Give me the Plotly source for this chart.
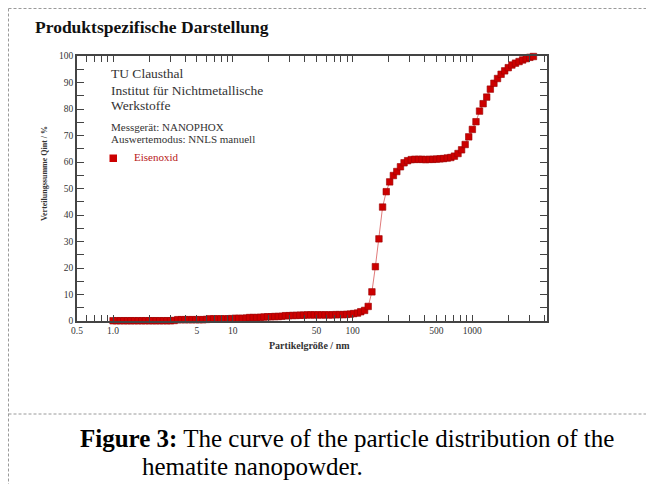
import plotly.graph_objects as go

# ---- data ----
size_nm = [1.00, 1.07, 1.15, 1.23, 1.32, 1.41, 1.51, 1.62, 1.74, 1.86,
           2.00, 2.14, 2.29, 2.45, 2.63, 2.82, 3.02, 3.24, 3.47, 3.72,
           3.98, 4.27, 4.57, 4.90, 5.25, 5.62, 6.03, 6.46, 6.92, 7.41,
           7.94, 8.51, 9.12, 9.77, 10.5, 11.2, 12.0, 12.9, 13.8, 14.8,
           15.8, 17.0, 18.2, 19.5, 20.9, 22.4, 24.0, 25.7, 27.5, 29.5,
           31.6, 33.9, 36.3, 38.9, 41.7, 44.7, 47.9, 51.3, 55.0, 58.9,
           63.1, 67.6, 72.4, 77.6, 83.2, 89.1, 95.5, 102, 110, 117,
           126, 135, 145, 155, 166, 178, 191, 204, 219, 234,
           251, 269, 288, 309, 331, 355, 380, 407, 437, 468,
           501, 537, 575, 617, 661, 708, 759, 813, 871, 933,
           1000, 1072, 1148, 1230, 1318, 1413, 1514, 1622, 1738, 1862,
           1995, 2138, 2291, 2455, 2630, 2818, 3020, 3236]

q_int = [0.1, 0.1, 0.1, 0.1, 0.1, 0.1, 0.1, 0.1, 0.1, 0.1,
         0.1, 0.1, 0.1, 0.1, 0.1, 0.1, 0.1, 0.2, 0.5, 0.5,
         0.5, 0.5, 0.5, 0.5, 0.5, 0.5, 0.6, 0.8, 0.8, 0.8,
         0.8, 0.8, 0.8, 0.9, 1.0, 1.0, 1.0, 1.1, 1.3, 1.3,
         1.3, 1.4, 1.5, 1.6, 1.6, 1.7, 1.7, 1.8, 2.0, 2.0,
         2.1, 2.1, 2.2, 2.2, 2.3, 2.3, 2.3, 2.3, 2.3, 2.3,
         2.3, 2.3, 2.4, 2.4, 2.4, 2.5, 2.6, 2.8, 3.0, 3.5,
         4.0, 5.5, 11.0, 20.5, 31.0, 43.0, 48.8, 52.5, 54.9, 56.4,
         58.2, 59.7, 60.5, 60.9, 61.0, 61.0, 61.0, 60.9, 61.0, 61.0,
         61.1, 61.2, 61.3, 61.5, 61.7, 62.2, 63.2, 64.6, 66.6, 69.5,
         72.3, 75.2, 79.2, 82.0, 84.5, 87.5, 89.7, 91.5, 93.1, 94.4,
         95.6, 96.6, 97.3, 97.9, 98.5, 99.0, 99.5, 99.8]

x_tickvals = [0.5, 0.6, 0.7, 0.8, 0.9, 1, 2, 3, 4, 5, 6, 7, 8, 9,
              10, 20, 30, 40, 50, 60, 70, 80, 90,
              100, 200, 300, 400, 500, 600, 700, 800, 900,
              1000, 2000, 3000, 4000]
x_labels = {0.5: "0.5", 1: "1.0", 5: "5", 10: "10", 50: "50",
            100: "100", 500: "500", 1000: "1000"}
y_tickvals = [0, 10, 20, 30, 40, 50, 60, 70, 80, 90, 100]

# ---- layout helpers (window pixel -> paper); page body has an 8px margin ----
OFF = 8
W, H = 654 - OFF, 484 - OFF
L, R, T, B = 77 - OFF, 547 - OFF, 56 - OFF, 321 - OFF


def px(x):
    return (x - OFF - L) / (R - L)


def py(y):
    return (B - (y - OFF)) / (B - T)


SERIF = "Liberation Serif, Times New Roman, serif"
AX = "#444444"

fig = go.Figure()
fig.add_trace(go.Scatter(
    x=size_nm, y=q_int, mode="lines+markers",
    line=dict(color="#e07a7a", width=1),
    marker=dict(symbol="square", size=6.5, color="#cc0000",
                line=dict(color="#9a0000", width=0.6)),
    cliponaxis=False, showlegend=False,
))

fig.update_layout(
    width=W, height=H,
    margin=dict(l=L, r=W - R, t=T, b=H - B, pad=0),
    paper_bgcolor="white", plot_bgcolor="white",
    xaxis=dict(
        type="log", range=[-0.30103, 3.6232],
        tickvals=x_tickvals,
        ticktext=[x_labels.get(v, "") for v in x_tickvals],
        ticks="inside", ticklen=6, tickwidth=1, tickcolor=AX,
        showline=True, linecolor=AX, linewidth=1.5, mirror="allticks",
        showgrid=False, zeroline=False,
        tickfont=dict(family=SERIF, size=9.5, color="#333333"),
    ),
    yaxis=dict(
        range=[0, 100], tickvals=y_tickvals,
        ticks="inside", ticklen=7, tickwidth=1, tickcolor=AX,
        minor=dict(dtick=5, ticks="inside", ticklen=7, tickwidth=1, tickcolor=AX, showgrid=False),
        showline=True, linecolor=AX, linewidth=1.5, mirror="allticks",
        showgrid=False, zeroline=False,
        tickfont=dict(family=SERIF, size=9.5, color="#333333"),
    ),
)

ann = []


def text(x, y, s, size, color="#333333", xanchor="left", **kw):
    ann.append(dict(x=px(x), y=py(y), xref="paper", yref="paper", text=s,
                    showarrow=False, xanchor=xanchor, yanchor="middle",
                    font=dict(family=SERIF, size=size, color=color), **kw))


text(33, 27, "<b>Produktspezifische Darstellung</b>", 17.5, color="#111111")
text(109, 73, "TU Clausthal", 13.5)
text(109, 90, "Institut für Nichtmetallische", 13.5)
text(109, 106, "Werkstoffe", 13.5)
text(109, 127, "Messgerät: NANOPHOX", 11)
text(109, 139, "Auswertemodus: NNLS manuell", 11)
text(132, 157, "Eisenoxid", 11, color="#b81818")
text(309, 345, "<b>Partikelgröße / nm</b>", 10, xanchor="center")
text(44, 174, "<b>Verteilungssumme Qint / %</b>", 8, xanchor="center", textangle=-90)
text(347, 438, "<b>Figure 3:</b> The curve of the particle distribution of the", 25,
     color="#000000", xanchor="center")
text(140, 466, "hematite nanopowder.", 25, color="#000000")
fig.update_layout(annotations=ann)

shapes = [
    # legend marker
    dict(type="rect", xref="paper", yref="paper",
         x0=px(109.5), x1=px(117), y0=py(154.5), y1=py(162),
         fillcolor="#cc0000", line=dict(width=0)),
    # dashed frame
    dict(type="line", xref="paper", yref="paper",
         x0=px(8.5), x1=px(654), y0=py(8.5), y1=py(8.5),
         line=dict(color="#9a9a9a", width=1, dash="3px,2px")),
    dict(type="line", xref="paper", yref="paper",
         x0=px(8.5), x1=px(8.5), y0=py(8.5), y1=py(484),
         line=dict(color="#9a9a9a", width=1, dash="3px,2px")),
    dict(type="line", xref="paper", yref="paper",
         x0=px(8.5), x1=px(654), y0=py(414), y1=py(414),
         line=dict(color="#9a9a9a", width=1, dash="3px,2px")),
]
fig.update_layout(shapes=shapes)

fig.write_html("out.html")
